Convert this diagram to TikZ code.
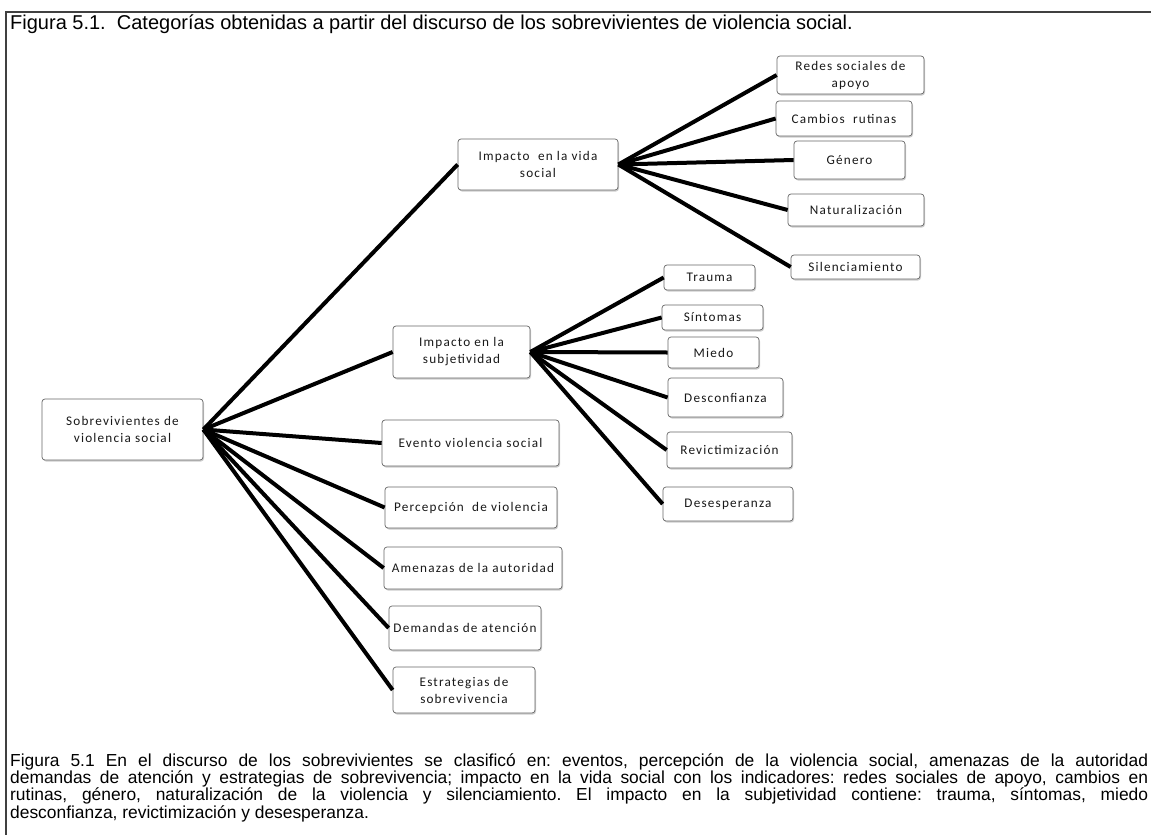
\documentclass[tikz,border=0pt]{standalone}
\usepackage{fontspec}
\setmainfont{Liberation Sans}
\newfontfamily\boxfont[LetterSpace=9]{Carlito}
\usetikzlibrary{shadows}
\tikzstyle{cat}=[draw=black!60, fill=white, rounded corners=3pt, line width=0.7pt, align=center, inner sep=1pt, text=black!90, font=\boxfont\fontsize{13.2}{17}\selectfont, drop shadow={shadow xshift=1pt, shadow yshift=-1.5pt, opacity=0.4}]
\tikzstyle{branch}=[line width=4pt, black]
\frenchspacing

\begin{document}
\begin{tikzpicture}[x=1pt, y=-1pt]
\useasboundingbox (0,0) rectangle (1151,835);
% Frame
    \draw[black!75, line width=1.3pt] (6,845) -- (6,12) -- (1165,12);
% Captions
    \node[anchor=base west, inner sep=0pt, font=\fontsize{20}{22}\selectfont] (title) at (10,29) {Figura 5.1.\ \ Categorías obtenidas a partir del discurso de los sobrevivientes de violencia social.};
    \node[anchor=north west, inner sep=0pt, text width=1138pt, align=justify, font=\fontsize{17.4}{14}\selectfont] (note) at (10,753) {\hyphenpenalty=10000 Figura 5.1 En el discurso de los sobrevivientes se clasificó en: eventos, percepción de la violencia social, amenazas de la autoridad\linebreak demandas de atención y estrategias de sobrevivencia; impacto en la vida social con los indicadores: redes sociales de apoyo, cambios en\linebreak rutinas, género, naturalización de la violencia y silenciamiento. El impacto en la subjetividad contiene: trauma, síntomas, miedo\linebreak desconfianza, revictimización y desesperanza.};
% Root
    \node[cat, minimum width=161pt, minimum height=61pt] (root) at (122.5,429.5) {Sobrevivientes de\\violencia social};
% Categories
    \node[cat, minimum width=160pt, minimum height=51pt] (vida) at (538,164.5) {Impacto\ \ en la vida\\social};
    \node[cat, minimum width=137pt, minimum height=52pt] (subj) at (461.5,352) {Impacto en la\\subjetividad};
    \node[cat, minimum width=177pt, minimum height=46pt] (evento) at (470.5,443) {Evento violencia social};
    \node[cat, minimum width=172pt, minimum height=41pt] (percep) at (471,507.5) {Percepción\ \ de violencia};
    \node[cat, minimum width=178pt, minimum height=42pt] (amen) at (473,568) {Amenazas de la autoridad};
    \node[cat, minimum width=152pt, minimum height=44pt] (deman) at (465,628) {Demandas de atención};
    \node[cat, minimum width=142pt, minimum height=46pt] (estrat) at (464,690) {Estrategias de\\sobrevivencia};
% Social life
    \node[cat, minimum width=147pt, minimum height=38pt] (redes) at (850.5,75) {Redes sociales de\\apoyo};
    \node[cat, minimum width=136pt, minimum height=35pt] (cambios) at (844,118.5) {Cambios\ \ rutinas};
    \node[cat, minimum width=111pt, minimum height=38pt] (genero) at (849.5,160) {Género};
    \node[cat, minimum width=136pt, minimum height=32pt] (natur) at (856,210) {Naturalización};
    \node[cat, minimum width=129pt, minimum height=24pt] (silen) at (855.5,267) {Silenciamiento};
% Subjectivity
    \node[cat, minimum width=91pt, minimum height=25pt] (trauma) at (709.5,277.5) {Trauma};
    \node[cat, minimum width=101pt, minimum height=25pt] (sint) at (712.5,317.5) {Síntomas};
    \node[cat, minimum width=91pt, minimum height=31pt] (miedo) at (713.5,352.5) {Miedo};
    \node[cat, minimum width=115pt, minimum height=39pt] (desc) at (725.5,397.5) {Desconfianza};
    \node[cat, minimum width=125pt, minimum height=36pt] (revic) at (729.5,450) {Revictimización};
    \node[cat, minimum width=130pt, minimum height=34pt] (deses) at (728,504) {Desesperanza};
% Branches
    \foreach \c in {vida,subj,evento,percep,amen,deman,estrat}
        \draw[branch] (root.east) -- (\c.west);
    \foreach \c in {redes,cambios,genero,natur,silen}
        \draw[branch] (vida.east) -- (\c.west);
    \foreach \c in {trauma,sint,miedo,desc,revic,deses}
        \draw[branch] (subj.east) -- (\c.west);
\end{tikzpicture}
\end{document}
